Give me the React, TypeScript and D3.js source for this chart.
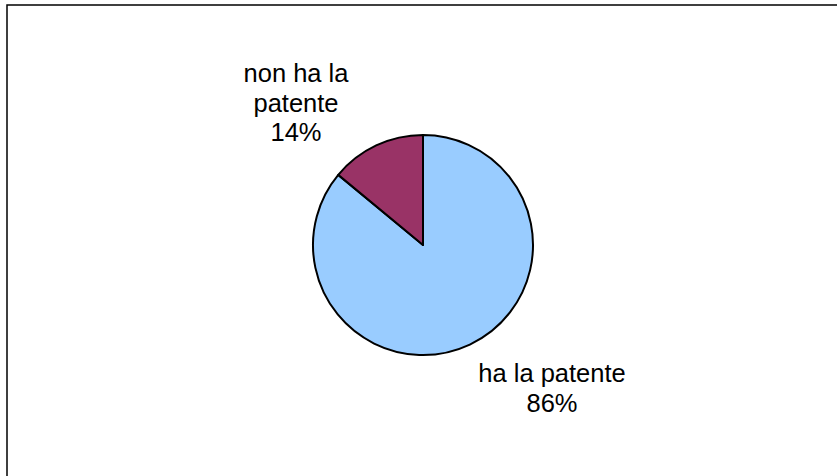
import React from "react";
import { pie, arc, PieArcDatum } from "d3";

const categories = ["ha la patente", "non ha la patente"];
const values = [86, 14];
const colors = ["#99CCFF", "#993366"];

// label lines as Excel wrapped them
const labelLines = [["ha la patente"], ["non ha la", "patente"]];

const width = 837;
const height = 476;
const cx = 423;
const cy = 245;
const radius = 110;

// where each label block sits, relative to the pie centre (Excel's outside-end layout)
const labelOffsets = [
  { dx: 129, dy: 137 },
  { dx: -127, dy: -163 },
];

type Slice = { name: string; value: number; color: string };

export default function App() {
  const data: Slice[] = categories.map((c, i) => ({ name: c, value: values[i], color: colors[i] }));
  const total = values.reduce((a, b) => a + b, 0);

  const arcs = pie<Slice>()
    .sort(null)
    .value((d) => d.value)(data);

  const arcGen = arc<PieArcDatum<Slice>>().innerRadius(0).outerRadius(radius);

  const fontSize = 25.5;
  const lineH = 29.5;

  return (
    <svg
      width={width}
      height={height}
      style={{ position: "absolute", left: 0, top: 0, background: "#fff" }}
      fontFamily="'Liberation Sans', Arial, sans-serif"
    >
      <rect x={7} y={5} width={width} height={height} fill="#fff" stroke="#000" strokeWidth={1.5} />
      <g transform={`translate(${cx},${cy})`}>
        {arcs.map((a, i) => (
          <path key={i} d={arcGen(a) || ""} fill={a.data.color} stroke="#000" strokeWidth={2} strokeLinejoin="round" />
        ))}
        {arcs.map((a, i) => {
          const lines = [...labelLines[i], `${Math.round((a.data.value / total) * 100)}%`];
          const off = labelOffsets[i];
          return (
            <text key={"l" + i} x={off.dx} y={off.dy} textAnchor="middle" fontSize={fontSize} fill="#000">
              {lines.map((t, j) => (
                <tspan key={j} x={off.dx} dy={j === 0 ? 0 : lineH}>
                  {t}
                </tspan>
              ))}
            </text>
          );
        })}
      </g>
    </svg>
  );
}
